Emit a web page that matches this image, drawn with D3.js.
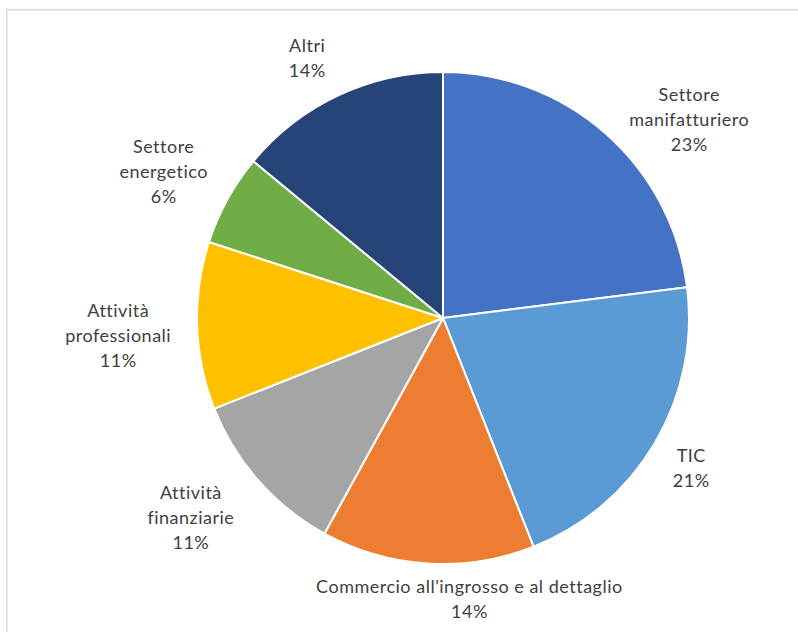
<!DOCTYPE html>
<html>
<head>
<meta charset="utf-8">
<script src="https://cdn.jsdelivr.net/npm/d3@7/dist/d3.min.js"></script>
<style>
  html, body { margin: 0; padding: 0; background: #fff; }
  svg { display: block; }
</style>
</head>
<body>
<svg id="chart" width="798" height="632"></svg>
<script>
// Sector shares (percent), clockwise from 12 o'clock
const sectors = [
  "Settore manifatturiero",
  "TIC",
  "Commercio all'ingrosso e al dettaglio",
  "Attività finanziarie",
  "Attività professionali",
  "Settore energetico",
  "Altri"
];
const shares = [23, 21, 14, 11, 11, 6, 14];
// How each category label breaks into lines
const labelLines = [
  ["Settore", "manifatturiero"],
  ["TIC"],
  ["Commercio all'ingrosso e al dettaglio"],
  ["Attività", "finanziarie"],
  ["Attività", "professionali"],
  ["Settore", "energetico"],
  ["Altri"]
];
const palette = ["#4472C4", "#5B9BD5", "#ED7D31", "#A5A5A5", "#FFC000", "#70AD47", "#264478"];

// Small adjustments to the outside-end label placement
const labelNudge = [[28, 32], [0, 0], [53, -13], [-17, -4], [-2, 8], [-4, 2], [-13, 7]];

const svg = d3.select("#chart");
const W = 798, H = 632;

// Chart area frame (continues past the right and bottom edges)
svg.append("rect")
  .attr("x", 6.75).attr("y", 9.75)
  .attr("width", W + 20).attr("height", H + 20)
  .attr("fill", "none")
  .attr("stroke", "#d9d9d9")
  .attr("stroke-width", 1.5);

const cx = 443, cy = 318, R = 246;

const data = sectors.map((s, i) => ({ name: s, value: shares[i], lines: labelLines[i], color: palette[i], nudge: labelNudge[i] }));

const pie = d3.pie().value(d => d.value).sort(null);
const arc = d3.arc().innerRadius(0).outerRadius(R);
const arcs = pie(data);

const g = svg.append("g").attr("transform", `translate(${cx},${cy})`);

g.selectAll("path.slice")
  .data(arcs)
  .join("path")
  .attr("class", "slice")
  .attr("d", arc)
  .attr("fill", d => d.data.color)
  .attr("stroke", "#fff")
  .attr("stroke-width", 2)
  .attr("stroke-linejoin", "round");

// Outside-end data labels: category name + percentage
const fmt = d3.format(".0%");
const lineH = 25;
const labels = g.selectAll("g.label")
  .data(arcs)
  .join("g")
  .attr("class", "label");

labels.each(function (d) {
  const sel = d3.select(this);
  const lines = d.data.lines.concat([fmt(d.data.value / 100)]);
  const text = sel.append("text")
    .attr("text-anchor", "middle")
    .attr("font-family", "Lato, 'Open Sans', sans-serif")
    .attr("font-size", "18px")
    .attr("letter-spacing", "0.5px")
    .attr("fill", "#404040");
  lines.forEach((ln, k) => {
    text.append("tspan")
      .attr("x", 0)
      .attr("y", (k - (lines.length - 1) / 2) * lineH)
      .attr("dy", "0.35em")
      .text(ln);
  });
  const bb = text.node().getBBox();
  const w = bb.width, h = lines.length * lineH;
  const a = (d.startAngle + d.endAngle) / 2;
  const s = Math.sin(a), c = -Math.cos(a);
  const rr = R + 24;
  const x = rr * s + s * w / 2 + d.data.nudge[0];
  const y = rr * c + c * h / 2 + d.data.nudge[1];
  sel.attr("transform", `translate(${x},${y})`);
});
</script>
</body>
</html>
